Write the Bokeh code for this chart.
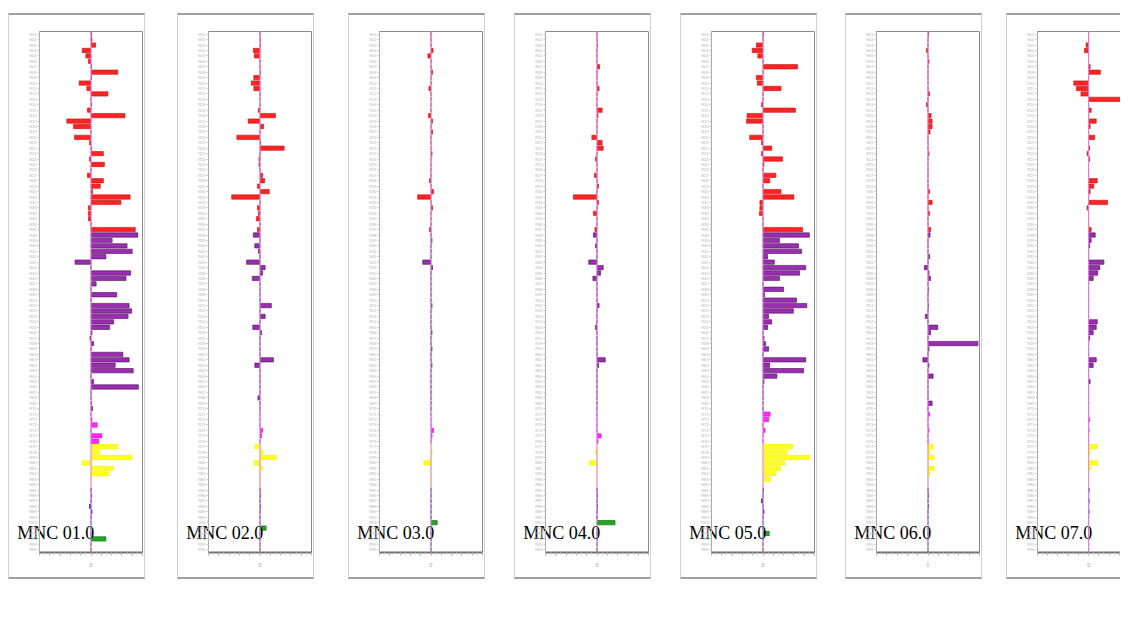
from bokeh.plotting import figure
from bokeh.models import (FactorRange, Range1d, Span, FixedTicker, Spacer,
                          ColumnDataSource, CustomJSTickFormatter, LinearAxis)
from bokeh.layouts import row, column
from bokeh.embed import file_html
from bokeh.resources import INLINE

# ---------------- data ----------------
row_labels = [f"R{i:02d}" for i in range(1, 97)]   # unreadable row names in the source
group_names = ["red", "purple", "magenta", "yellow", "blue", "green"]
group_sizes = [37, 33, 6, 8, 6, 6]
group_fill = {"red": "#ff2424", "purple": "#9a2eb0", "magenta": "#ff28ff",
              "yellow": "#ffff22", "blue": "#2a2ad0", "green": "#22a822"}
group_line = {"red": "#c01010", "purple": "#4a0c58", "magenta": "#d010d0",
              "yellow": "#f0f000", "blue": "#10108a", "green": "#0c600c"}

panel_titles = ["MNC 01.0", "MNC 02.0", "MNC 03.0", "MNC 04.0",
                "MNC 05.0", "MNC 06.0", "MNC 07.0"]

mnc01 = [0.01, 0.02, 0.09, -0.17, -0.10, -0.05, 0.01, 0.52, 0.01, -0.23, -0.08, 0.33,
         0.0, 0.01, -0.07, 0.66, -0.47, -0.34, 0.0, -0.32, -0.03, 0.01, 0.24, -0.03,
         0.26, 0.0, -0.07, 0.24, 0.18, 0.03, 0.76, 0.58, -0.05, -0.05, -0.05, 0.0,
         0.86, 0.91, 0.41, 0.70, 0.80, 0.29, -0.31, 0.0, 0.77, 0.68, 0.10, 0.0,
         0.50, 0.0, 0.74, 0.79, 0.72, 0.44, 0.36, 0.02, -0.02, 0.05, 0.0, 0.62,
         0.74, 0.47, 0.82, 0.0, 0.05, 0.92, 0.0, 0.0, 0.01, 0.03, 0.0, 0.02,
         0.12, 0.0, 0.21, 0.15, 0.52, 0.17, 0.80, -0.17, 0.43, 0.35, 0.0, 0.0,
         0.0, 0.01, 0.0, -0.03, 0.02, 0.0, 0.0, 0.0, 0.0, 0.29, 0.0, 0.0]
mnc02 = [0.0, 0.01, 0.01, -0.13, -0.11, 0.0, 0.0, 0.01, -0.12, -0.17, -0.12, 0.0,
         0.0, 0.0, -0.03, 0.30, -0.23, 0.07, 0.0, -0.45, 0.01, 0.47, 0.0, -0.02,
         -0.02, 0.0, 0.05, 0.09, -0.05, 0.18, -0.55, 0.0, -0.05, -0.03, -0.07, 0.0,
         -0.05, -0.13, 0.0, -0.10, -0.03, 0.0, -0.26, 0.10, 0.05, -0.15, 0.0, 0.0,
         0.0, 0.0, 0.22, 0.0, 0.10, 0.0, -0.14, 0.03, 0.0, 0.0, 0.0, 0.0,
         0.26, -0.10, 0.0, 0.0, 0.0, 0.0, 0.0, -0.04, 0.0, 0.0, 0.0, 0.0,
         0.0, 0.05, 0.03, 0.0, -0.10, 0.06, 0.32, -0.12, 0.05, 0.0, 0.0, 0.0,
         0.0, 0.01, 0.0, 0.01, 0.0, 0.0, 0.0, 0.12, 0.0, 0.0, 0.0, 0.0]
mnc03 = [0.0, 0.0, 0.0, 0.04, -0.06, 0.0, 0.0, 0.03, 0.0, 0.0, -0.04, 0.0,
         0.0, 0.0, 0.0, -0.05, 0.03, 0.0, 0.03, 0.0, 0.0, 0.0, 0.02, 0.0,
         0.0, 0.0, 0.0, -0.03, 0.0, 0.05, -0.26, 0.0, 0.03, 0.0, 0.0, 0.0,
         -0.03, 0.0, 0.02, 0.0, 0.0, 0.0, -0.16, 0.03, 0.0, 0.0, 0.0, 0.0,
         0.0, 0.0, 0.02, 0.0, 0.0, 0.0, 0.0, 0.02, 0.0, 0.0, 0.02, 0.0,
         0.0, 0.02, 0.0, 0.0, 0.0, 0.0, 0.0, 0.0, 0.0, 0.0, 0.0, 0.0,
         0.0, 0.05, 0.02, 0.0, 0.0, 0.02, 0.0, -0.14, 0.0, 0.0, 0.0, 0.0,
         0.0, 0.0, 0.0, 0.0, 0.0, 0.0, 0.12, 0.0, 0.0, 0.0, 0.0, 0.0]
mnc04 = [0.0, 0.0, 0.01, 0.0, 0.0, 0.0, 0.05, 0.0, 0.0, 0.0, 0.04, 0.0,
         0.0, 0.0, 0.10, 0.02, 0.0, 0.0, 0.0, -0.10, 0.10, 0.12, 0.0, -0.03,
         0.0, 0.0, -0.05, 0.0, 0.03, 0.0, -0.46, 0.03, 0.0, -0.07, 0.0, 0.0,
         -0.04, -0.07, 0.0, -0.03, 0.0, 0.0, -0.16, 0.12, 0.07, -0.08, 0.0, 0.0,
         0.0, 0.0, 0.04, 0.0, 0.0, 0.0, -0.03, 0.0, 0.0, 0.0, 0.0, 0.0,
         0.16, 0.03, 0.0, 0.0, 0.0, 0.0, 0.0, 0.0, 0.0, 0.0, 0.0, 0.0,
         0.0, 0.0, 0.08, 0.02, 0.0, -0.03, 0.0, -0.15, 0.0, 0.0, 0.0, 0.0,
         0.0, 0.01, 0.0, 0.01, 0.0, 0.0, 0.35, 0.0, 0.0, 0.0, 0.0, 0.0]
mnc05 = [0.01, 0.0, -0.13, -0.21, -0.10, 0.0, 0.67, 0.0, -0.13, -0.11, 0.35, 0.0,
         0.0, -0.03, 0.63, -0.31, -0.32, 0.0, 0.0, -0.26, -0.03, 0.17, -0.03, 0.38,
         0.02, 0.0, 0.25, 0.13, 0.0, 0.35, 0.60, -0.06, -0.06, -0.07, 0.0, 0.0,
         0.77, 0.90, 0.32, 0.69, 0.75, 0.09, 0.22, 0.83, 0.71, 0.32, 0.0, 0.40,
         0.03, 0.65, 0.85, 0.59, 0.11, 0.17, 0.09, 0.0, 0.02, 0.05, 0.11, 0.0,
         0.83, 0.13, 0.79, 0.27, 0.02, 0.0, 0.0, 0.0, 0.0, 0.0, 0.14, 0.11,
         0.0, 0.04, 0.0, 0.0, 0.58, 0.47, 0.91, 0.42, 0.34, 0.24, 0.15, 0.0,
         0.01, 0.0, -0.03, 0.0, 0.02, 0.0, 0.0, 0.0, 0.12, 0.0, 0.0, 0.0]
mnc06 = [0.01, 0.0, 0.0, -0.03, 0.0, 0.02, 0.0, 0.0, 0.0, 0.0, 0.0, 0.03,
         0.0, -0.03, 0.0, 0.06, 0.08, 0.08, 0.04, 0.0, 0.0, 0.0, 0.02, 0.0,
         0.0, 0.0, 0.0, 0.0, 0.0, 0.03, 0.0, 0.08, 0.0, 0.03, 0.0, 0.0,
         0.05, 0.04, 0.0, 0.0, 0.0, 0.03, 0.0, -0.07, 0.02, 0.05, 0.0, 0.01,
         0.0, 0.0, 0.01, 0.0, -0.05, 0.0, 0.19, 0.05, 0.0, 0.97, 0.02, 0.0,
         -0.10, 0.02, 0.0, 0.10, 0.0, 0.0, 0.0, 0.0, 0.08, 0.0, 0.03, 0.0,
         0.0, 0.02, 0.0, 0.0, 0.10, 0.04, 0.12, 0.0, 0.12, 0.03, 0.0, 0.0,
         0.0, 0.01, 0.0, 0.01, 0.0, 0.0, 0.0, 0.0, 0.0, 0.0, 0.0, 0.0]
mnc07 = [0.0, 0.0, -0.05, -0.08, 0.0, 0.0, 0.03, 0.23, 0.0, -0.29, -0.24, -0.15,
         1.20, 0.0, 0.05, 0.0, 0.15, 0.03, 0.0, 0.12, 0.0, 0.02, -0.03, 0.02,
         0.0, 0.0, 0.0, 0.17, 0.10, 0.03, 0.0, 0.37, -0.03, 0.0, 0.0, 0.0,
         0.05, 0.13, 0.05, 0.02, 0.0, 0.0, 0.30, 0.22, 0.18, 0.09, 0.0, 0.0,
         0.0, 0.0, 0.0, 0.0, 0.0, 0.17, 0.15, 0.09, 0.02, 0.0, 0.0, 0.0,
         0.15, 0.09, 0.0, 0.0, 0.03, 0.0, 0.0, 0.0, 0.0, 0.0, 0.0, 0.02,
         0.0, 0.01, 0.0, 0.0, 0.17, 0.03, 0.0, 0.18, 0.04, 0.0, 0.0, 0.0,
         0.01, 0.0, 0.01, 0.0, 0.01, 0.0, 0.0, 0.0, 0.0, 0.0, 0.0, 0.0]
panel_values = [mnc01, mnc02, mnc03, mnc04, mnc05, mnc06, mnc07]

x_ticks = [-1.0, -0.8, -0.6, -0.4, -0.2, 0.0, 0.2, 0.4, 0.6, 0.8, 1.0]
x_minor = [-0.9, -0.7, -0.5, -0.3, -0.1, 0.1, 0.3, 0.5, 0.7, 0.9]
title_x = -0.683   # horizontal centre of the panel caption, in x data units

# ---------------- build ----------------
row_groups = []
for g, n in zip(group_names, group_sizes):
    row_groups += [g] * n
fills = [group_fill[g] for g in row_groups]
lines = [group_line[g] for g in row_groups]


def make_panel(values, title, width, x_end, border_right, last=False):
    p = figure(width=width, height=566, output_backend="svg", toolbar_location=None,
               y_range=FactorRange(factors=list(reversed(row_labels)), range_padding=0),
               x_range=Range1d(-1, x_end),
               min_border_left=30, min_border_right=border_right,
               min_border_top=16, min_border_bottom=29)
    src = ColumnDataSource(dict(label=row_labels, value=values, fill=fills, line=lines))
    p.add_layout(Span(location=0, dimension="height", line_color="#e27ee2", line_width=1))
    p.hbar(y="label", left=0, right="value", height=0.8, source=src,
           fill_color="fill", line_color="line", line_width=0.6)
    p.grid.visible = False
    p.outline_line_color = "#8a8a8a"
    p.outline_line_width = 1
    p.background_fill_color = "white"
    p.border_fill_color = "white"

    xa = p.xaxis[0]
    xa.ticker = FixedTicker(ticks=x_ticks, minor_ticks=x_minor)
    xa.formatter = CustomJSTickFormatter(code="return tick == 0 ? '0' : '';")
    xa.axis_line_color = "#707070"
    xa.axis_line_width = 2
    xa.major_tick_out = 3
    xa.major_tick_in = 0
    xa.minor_tick_out = 2
    xa.minor_tick_in = 0
    xa.major_tick_line_color = "#c0a8c0"
    xa.minor_tick_line_color = "#d0c0d0"
    xa.major_label_text_font_size = "5px"
    xa.major_label_text_color = "#9090b0"
    xa.major_label_standoff = 7

    ya = p.yaxis[0]
    ya.axis_line_color = "#a8a8a8"
    ya.major_tick_out = 2
    ya.major_tick_in = 0
    ya.major_tick_line_color = "#c8c8c8"
    ya.major_label_text_font_size = "4px"
    ya.major_label_text_color = "#b4b4b4"
    ya.major_label_standoff = 1

    # panel caption: a single-tick helper axis whose label is pulled up over the frame
    cap = LinearAxis(ticker=FixedTicker(ticks=[title_x]),
                     formatter=CustomJSTickFormatter(code="return '%s';" % title),
                     axis_line_alpha=0, major_tick_line_alpha=0,
                     major_tick_in=0, major_tick_out=0,
                     minor_tick_in=0, minor_tick_out=0,
                     major_label_standoff=-47,
                     major_label_text_font="Liberation Serif",
                     major_label_text_font_size="18px",
                     major_label_text_color="black")
    p.add_layout(cap, "below")

    st = {"border-top": "2px solid #a0a0a0", "border-bottom": "2px solid #a0a0a0",
          "border-left": "1px solid #d0d0d0"}
    st["border-right"] = "none" if last else "1px solid #d0d0d0"
    p.styles = st
    return p


panels = []
for i, (vals, title) in enumerate(zip(panel_values, panel_titles)):
    if i < 6:
        panels.append(make_panel(vals, title, 137, 1.0, 4))
    else:
        panels.append(make_panel(vals, title, 114, 0.644, 0, last=True))

gaps = [32, 34, 29, 29, 28, 24]
children = [Spacer(width=8, height=10), panels[0]]
for gap, p in zip(gaps, panels[1:]):
    children.append(Spacer(width=gap, height=10))
    children.append(p)

layout = column(Spacer(height=13, width=10), row(*children))

open("out.html", "w").write(file_html(layout, INLINE))
